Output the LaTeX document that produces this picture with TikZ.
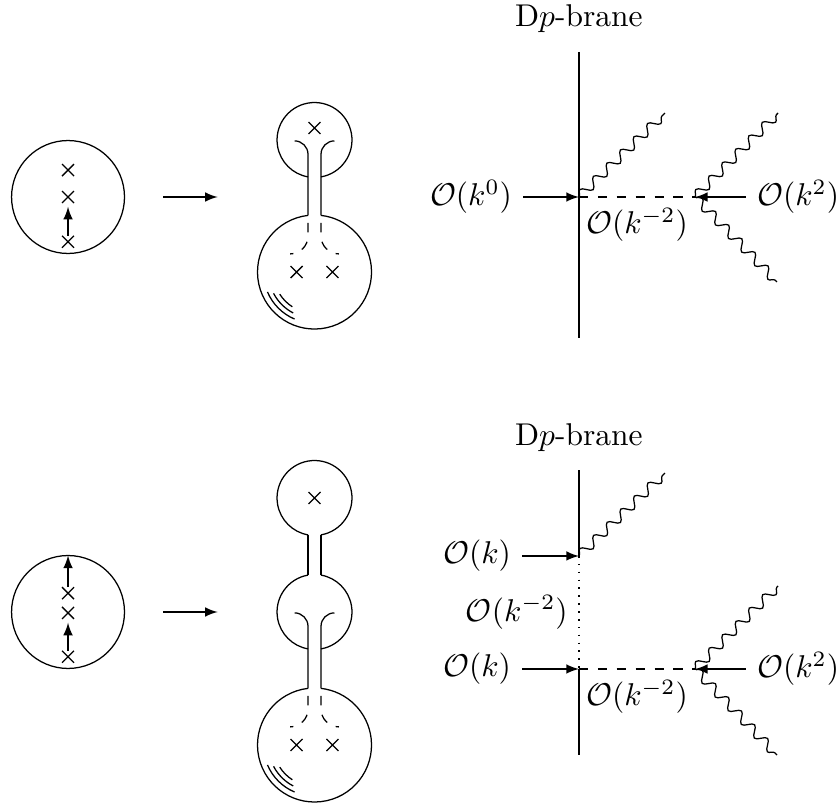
\documentclass[tikz,border=0pt]{standalone}
\usepackage{amssymb}
\usepackage{tikz}
\usetikzlibrary{shapes.misc,decorations.pathmorphing}
\newcommand{\Ok}[1]{\mathcal{O}(#1)}

\begin{document}
\begin{tikzpicture}[xpt/.style={cross out, draw, minimum size=3.4pt, inner sep=0pt},
			wavy/.style={decorate, decoration={snake, amplitude=1.5pt, segment length=6pt}},
			>=latex]
			\useasboundingbox (-0.759,2.198) rectangle (8.613,-6.752);
			% first row
			\draw (0,0) circle[radius=0.63];
			\node[xpt] (t1) at (0,0.3) {};
			\node[xpt] (t2) at (0,0) {};
			\node[xpt] (t3) at (0,-0.5) {};
			\draw[->, shorten >=1.2pt] (t3) -- (t2);
			\coordinate (s1) at (1.06,0);
			\coordinate (e1) at (1.67,0);
			\draw[->] (s1) -- (e1);
			% small sphere on top
			\draw (2.75,0.636) ++(-80:0.418) arc[start angle=-80, end angle=260, radius=0.418];
			\node[xpt] (t4) at (2.75,0.77) {};
			\draw (2.6775,-0.205) -- (2.6775,0.476) arc[start angle=0, end angle=90, radius=0.15];
			\draw (2.8225,-0.205) -- (2.8225,0.476) arc[start angle=180, end angle=90, radius=0.15];
			% big sphere
			\draw (2.75,-0.837) ++(96.54:0.636) arc[start angle=96.54, end angle=443.46, radius=0.636];
			\draw[dashed] (2.6775,-0.29) -- (2.6775,-0.435) arc[start angle=0, end angle=-90, radius=0.2];
			\draw[dashed] (2.8225,-0.29) -- (2.8225,-0.435) arc[start angle=180, end angle=270, radius=0.2];
			\node[xpt] (t5) at (2.55,-0.837) {};
			\node[xpt] (t6) at (2.95,-0.837) {};
			\foreach \r/\a in {0.57/22, 0.515/17.5, 0.46/12.5}
				\draw (2.75,-0.837) ++(225-\a:\r) arc[start angle=225-\a, end angle=225+\a, radius=\r];
			% brane
			\coordinate (bt) at (5.70,1.618);
			\coordinate (bb) at (5.70,-1.573);
			\draw (bt) -- (bb);
			\node (lab1) at (5.70,1.99) {D$p$-brane};
			\coordinate (v1) at (5.70,0);
			\coordinate (v2) at (6.995,0);
			\node (k0) at (4.496,0) {$\Ok{k^0}$};
			\node (k2) at (8.145,0) {$\Ok{k^2}$};
			\draw[->] (k0) -- (v1);
			\draw[dashed] (v1) -- node[below] {$\Ok{k^{-2}}$} (v2);
			\draw[->] (k2) -- (v2);
			\coordinate (g1) at (6.66,0.937);
			\coordinate (g2) at (7.922,0.937);
			\coordinate (g3) at (7.91,-0.948);
			\draw[wavy] (v1) -- (g1);
			\draw[wavy] (v2) -- (g2);
			\draw[wavy] (v2) -- (g3);
			% second row
			\draw (0,-4.63) circle[radius=0.63];
			\node[xpt] (b1) at (0,-4.42) {};
			\node[xpt] (b2) at (0,-4.64) {};
			\node[xpt] (b3) at (0,-5.13) {};
			\coordinate (btop) at (0,-4.0);
			\draw[->, shorten >=1.2pt] (b3) -- (b2);
			\draw[->] (b1) -- (btop);
			\coordinate (s2) at (1.06,-4.63);
			\coordinate (e2) at (1.67,-4.63);
			\draw[->] (s2) -- (e2);
			% three spheres
			\draw (2.75,-3.358) ++(-80:0.418) arc[start angle=-80, end angle=260, radius=0.418];
			\node[xpt] (b4) at (2.75,-3.358) {};
			\draw (2.6775,-3.77) -- (2.6775,-4.218);
			\draw (2.8225,-3.77) -- (2.8225,-4.218);
			\draw (2.75,-4.63) ++(-80:0.418) arc[start angle=-80, end angle=80, radius=0.418];
			\draw (2.75,-4.63) ++(100:0.418) arc[start angle=100, end angle=260, radius=0.418];
			\draw (2.6775,-5.482) -- (2.6775,-4.79) arc[start angle=0, end angle=90, radius=0.15];
			\draw (2.8225,-5.482) -- (2.8225,-4.79) arc[start angle=180, end angle=90, radius=0.15];
			\draw (2.75,-6.114) ++(96.54:0.636) arc[start angle=96.54, end angle=443.46, radius=0.636];
			\draw[dashed] (2.6775,-5.567) -- (2.6775,-5.712) arc[start angle=0, end angle=-90, radius=0.2];
			\draw[dashed] (2.8225,-5.567) -- (2.8225,-5.712) arc[start angle=180, end angle=270, radius=0.2];
			\node[xpt] (b5) at (2.55,-6.114) {};
			\node[xpt] (b6) at (2.95,-6.114) {};
			\foreach \r/\a in {0.57/22, 0.515/17.5, 0.46/12.5}
				\draw (2.75,-6.114) ++(225-\a:\r) arc[start angle=225-\a, end angle=225+\a, radius=\r];
			% brane with two ends
			\coordinate (bt2) at (5.70,-3.046);
			\coordinate (bb2) at (5.70,-6.226);
			\node (lab2) at (5.70,-2.689) {D$p$-brane};
			\coordinate (v3) at (5.70,-4.005);
			\coordinate (v4) at (5.70,-5.266);
			\coordinate (v5) at (6.995,-5.266);
			\draw (bt2) -- (v3);
			\draw (v4) -- (bb2);
			\node (k1a) at (4.563,-4.005) {$\Ok{k}$};
			\node (k1b) at (4.563,-5.266) {$\Ok{k}$};
			\node (k2b) at (8.145,-5.266) {$\Ok{k^2}$};
			\draw[->] (k1a) -- (v3);
			\draw[->] (k1b) -- (v4);
			\draw[dotted, line width=0.5pt] (v3) -- node[left] {$\Ok{k^{-2}}$} (v4);
			\draw[dashed] (v4) -- node[below] {$\Ok{k^{-2}}$} (v5);
			\draw[->] (k2b) -- (v5);
			\coordinate (g4) at (6.66,-3.08);
			\coordinate (g5) at (7.922,-4.34);
			\coordinate (g6) at (7.91,-6.226);
			\draw[wavy] (v3) -- (g4);
			\draw[wavy] (v5) -- (g5);
			\draw[wavy] (v5) -- (g6);
			\end{tikzpicture}
\end{document}
